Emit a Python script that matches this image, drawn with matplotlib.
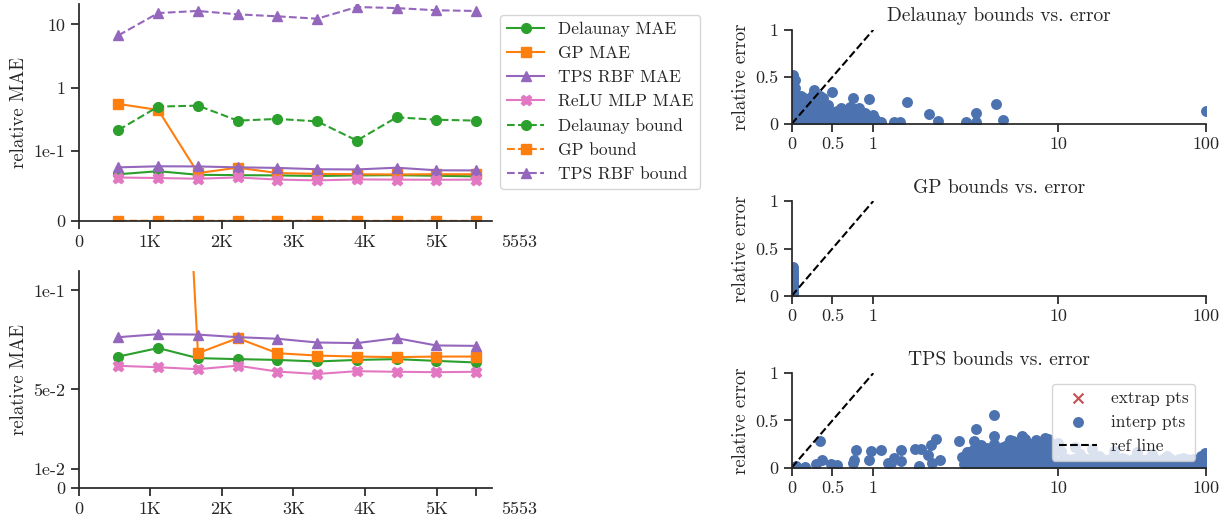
import numpy as np
import matplotlib
matplotlib.use('Agg')
import matplotlib.pyplot as plt
from matplotlib import transforms

# sample counts on the x axis of the left panels
n_points = [555, 1111, 1666, 2221, 2776, 3332, 3887, 4442, 4998, 5553]
x_ticks = [0, 1000, 2000, 3000, 4000, 5000, 5553]
x_tick_labels = ['0', '1K', '2K', '3K', '4K', '5K', '5553']

delaunay_mae = [0.0666, 0.0709, 0.0658, 0.0653, 0.0649, 0.0641, 0.0649, 0.0653, 0.0644, 0.0636]
gp_mae = [0.551, 0.442, 0.0683, 0.0759, 0.0683, 0.0671, 0.0666, 0.0663, 0.0666, 0.0666]
tps_mae = [0.0764, 0.0779, 0.0777, 0.0764, 0.0756, 0.0737, 0.0734, 0.0759, 0.0722, 0.0720]
mlp_mae = [0.0619, 0.0612, 0.0602, 0.0620, 0.0590, 0.0578, 0.0592, 0.0589, 0.0587, 0.0589]
delaunay_bound = [0.213, 0.50, 0.518, 0.30, 0.319, 0.292, 0.145, 0.338, 0.31, 0.30]
gp_bound = [0.0004, 0.0003, 0.0003, 0.0003, 0.0003, 0.0002, 0.0002, 0.0002, 0.0002, 0.0002]
tps_bound = [6.7, 15.1, 16.3, 14.4, 13.4, 12.3, 18.8, 18.1, 16.7, 16.3]

# scatter: bound (x) vs relative error (y)
del_bound = [0.01, 0.01, 0.02, 0.03, 0.02, 0.02, 0.03, 0.08, 0.1, 0.1, 0.1, 0.15, 0.18, 0.2,
             0.22, 0.27, 0.3, 0.3, 0.33, 0.38, 0.4, 0.42, 0.45, 0.49, 0.5, 0.55, 0.6, 0.62,
             0.66, 0.7, 0.75, 0.76, 0.8, 0.85, 0.9, 0.95, 0.98, 1.0, 1.1, 1.29, 1.4, 1.52,
             2.0, 2.24, 3.16, 3.58, 3.6, 4.6, 5.0, 100, 0.05, 0.4, 0.7,
             0.04, 0.04, 0.04, 0.04, 0.04, 0.04, 0.04, 0.12, 0.12, 0.12, 0.12, 0.12,
             0.2, 0.2, 0.2, 0.2, 0.25, 0.25, 0.25, 0.25, 0.35, 0.35, 0.35, 0.35, 0.35,
             0.45, 0.45, 0.45, 0.45, 0.55, 0.55, 0.55, 0.65, 0.65, 0.72, 0.72, 0.72,
             0.82, 0.82, 0.82, 0.9, 0.9, 1.02]
del_err = [0.52, 0.44, 0.36, 0.28, 0.20, 0.12, 0.05, 0.30, 0.22, 0.14, 0.06, 0.27, 0.18, 0.10,
           0.03, 0.36, 0.26, 0.16, 0.08, 0.27, 0.18, 0.11, 0.04, 0.34, 0.13, 0.07, 0.17, 0.10,
           0.03, 0.13, 0.27, 0.16, 0.10, 0.05, 0.08, 0.26, 0.03, 0.09, 0.02, 0.02, 0.02, 0.23,
           0.10, 0.03, 0.02, 0.02, 0.12, 0.21, 0.04, 0.14, 0.0, 0.0, 0.0,
           0.47, 0.38, 0.30, 0.24, 0.16, 0.08, 0.01, 0.30, 0.25, 0.18, 0.10, 0.02,
           0.26, 0.21, 0.14, 0.06, 0.30, 0.22, 0.12, 0.01, 0.30, 0.22, 0.13, 0.05, 0.01,
           0.20, 0.12, 0.07, 0.01, 0.14, 0.10, 0.02, 0.15, 0.06, 0.18, 0.08, 0.01,
           0.17, 0.06, 0.01, 0.12, 0.03, 0.05]

gp_bnd = [0.02, 0.02, 0.02, 0.02, 0.02, 0.02, 0.02, 0.02, 0.02, 0.02, 0.02, 0.01, 0.01]
gp_err = [0.0, 0.03, 0.06, 0.09, 0.12, 0.15, 0.18, 0.21, 0.24, 0.27, 0.30, 0.10, 0.20]

tps_bnd = [0.05, 0.16, 0.35, 0.37, 0.3, 0.48, 0.55, 0.75, 0.76, 0.79, 0.95, 0.97, 1.1, 1.2,
           1.25, 1.29, 1.41, 1.41, 1.69, 1.82, 1.77, 1.98, 2.06, 2.17, 2.08, 2.3, 2.91, 3.51,
           3.57, 4.47, 4.47, 5.45, 6.4, 8.5,
           3.0, 3.1, 3.3, 3.4, 3.6, 3.7, 3.9, 4.0, 4.2, 4.4, 4.6, 4.8, 5.0, 5.2, 5.4, 5.6,
           5.8, 6.0, 6.2, 6.5, 6.7, 7.0, 7.2, 7.5, 7.8, 8.1, 8.5, 8.8, 9.2, 9.6, 10, 10.5,
           11, 12, 13, 14, 15, 17, 19, 21, 24, 27, 30, 34, 38, 43, 48, 55, 62, 70, 78, 86,
           93, 99, 97,
           3.2, 3.2, 3.2, 3.5, 3.5, 3.5, 3.8, 3.8, 3.8, 3.8, 4.1, 4.1, 4.1,
           4.5, 4.5, 4.5, 4.5, 4.9, 4.9, 4.9, 5.3, 5.3, 5.3, 5.3, 5.7, 5.7, 5.7, 5.7,
           6.1, 6.1, 6.1, 6.1, 6.6, 6.6, 6.6, 6.6, 7.1, 7.1, 7.1, 7.1, 7.6, 7.6, 7.6, 7.6,
           8.2, 8.2, 8.2, 8.2, 8.8, 8.8, 8.8, 8.8, 9.4, 9.4, 9.4, 9.4,
           10.7, 10.7, 11.5, 11.5, 12.5, 12.5, 13.5, 13.5, 15.5, 15.5, 16.5, 16.5, 18, 18,
           20, 20, 22.5, 22.5, 25.5, 25.5, 28.5, 28.5, 32, 32, 36, 36, 40.5, 40.5, 45.5, 45.5,
           51, 51, 58, 58, 66, 66, 74, 74, 82, 82, 90, 90, 98, 99.5]
tps_err = [0.02, 0.01, 0.28, 0.08, 0.04, 0.04, 0.03, 0.05, 0.08, 0.19, 0.08, 0.18, 0.19, 0.05,
           0.05, 0.10, 0.19, 0.07, 0.20, 0.20, 0.02, 0.13, 0.24, 0.30, 0.05, 0.08, 0.28, 0.28,
           0.41, 0.556, 0.33, 0.29, 0.34, 0.31,
           0.11, 0.04, 0.16, 0.07, 0.22, 0.12, 0.03, 0.17, 0.08, 0.20, 0.13, 0.04, 0.22, 0.15,
           0.07, 0.25, 0.18, 0.10, 0.03, 0.27, 0.20, 0.12, 0.05, 0.25, 0.17, 0.09, 0.28, 0.20,
           0.13, 0.05, 0.26, 0.18, 0.10, 0.03, 0.22, 0.14, 0.06, 0.20, 0.12, 0.04, 0.18, 0.10,
           0.03, 0.16, 0.08, 0.14, 0.05, 0.12, 0.06, 0.10, 0.03, 0.08, 0.12, 0.15, 0.04,
           0.02, 0.09, 0.17, 0.05, 0.13, 0.20, 0.02, 0.09, 0.17, 0.24, 0.05, 0.13, 0.21,
           0.02, 0.09, 0.17, 0.25, 0.05, 0.13, 0.20, 0.02, 0.09, 0.17, 0.24, 0.05, 0.13, 0.21, 0.28,
           0.02, 0.09, 0.17, 0.24, 0.05, 0.13, 0.21, 0.30, 0.02, 0.09, 0.17, 0.25, 0.05, 0.13, 0.21, 0.29,
           0.02, 0.09, 0.17, 0.24, 0.05, 0.13, 0.21, 0.30, 0.02, 0.09, 0.17, 0.25,
           0.02, 0.09, 0.02, 0.09, 0.02, 0.09, 0.02, 0.09, 0.02, 0.09, 0.02, 0.09, 0.02, 0.09,
           0.02, 0.09, 0.02, 0.09, 0.02, 0.09, 0.02, 0.09, 0.02, 0.09, 0.02, 0.09, 0.02, 0.09, 0.02, 0.09,
           0.02, 0.09, 0.02, 0.09, 0.02, 0.09, 0.02, 0.09, 0.02, 0.09, 0.02, 0.09, 0.10, 0.06]

scatter_ticks = [0, 0.5, 1, 10, 100]
scatter_tick_labels = ['0', '0.5', '1', '10', '100']

GREEN, ORANGE, PURPLE, PINK = '#2ca02c', '#ff7f0e', '#9467bd', '#e377c2'
BLUE, RED = '#4c72b0', '#c44e52'
DARK = '#262626'

plt.rcParams.update({
    'font.family': ['cmr10', 'DejaVu Serif'],
    'font.size': 13,
    'axes.labelsize': 13.5,
    'xtick.labelsize': 13,
    'ytick.labelsize': 13,
    'legend.fontsize': 12.5,
    'axes.unicode_minus': False,
    'axes.formatter.use_mathtext': True,
    'text.color': DARK,
    'axes.labelcolor': DARK,
    'axes.edgecolor': DARK,
    'xtick.color': DARK,
    'ytick.color': DARK,
    'axes.linewidth': 1.25,
    'xtick.major.width': 1.25,
    'ytick.major.width': 1.25,
    'xtick.major.size': 6,
    'ytick.major.size': 6,
    'lines.linewidth': 1.5,
    'legend.edgecolor': '0.8',
})

W, H = 1228, 525
fig = plt.figure(figsize=(W / 100, H / 100), dpi=100)


def px_axes(left, top, right, bottom):
    return fig.add_axes([left / W, 1 - bottom / H, (right - left) / W, (bottom - top) / H])


def style(ax):
    ax.spines['top'].set_visible(False)
    ax.spines['right'].set_visible(False)


def left_xaxis(ax):
    ax.set_xlim(0, 5770)
    ax.set_xticks(x_ticks)
    ax.set_xticklabels(x_tick_labels)
    lab = ax.get_xticklabels()[-1]
    lab.set_transform(lab.get_transform() + transforms.ScaledTranslation(0.43, 0, fig.dpi_scale_trans))


# ---- top left: all curves on symlog scale
ax1 = px_axes(78.7, 4, 491.7, 221)
style(ax1)
ax1.set_yscale('symlog', linthresh=0.1, linscale=1)
ax1.plot(n_points, delaunay_mae, '-o', color=GREEN, ms=7, label='Delaunay MAE')
ax1.plot(n_points, gp_mae, '-s', color=ORANGE, ms=7, label='GP MAE')
ax1.plot(n_points, tps_mae, '-^', color=PURPLE, ms=7.5, label='TPS RBF MAE')
ax1.plot(n_points, mlp_mae, '-X', color=PINK, ms=7.5, label='ReLU MLP MAE')
ax1.plot(n_points, delaunay_bound, '--o', color=GREEN, ms=7, label='Delaunay bound')
ax1.plot(n_points, gp_bound, '--s', color=ORANGE, ms=7, label='GP bound')
ax1.plot(n_points, tps_bound, '--^', color=PURPLE, ms=7.5, label='TPS RBF bound')
ax1.set_ylim(0, 21)
ax1.set_yticks([0, 0.1, 1, 10])
ax1.set_yticklabels(['0', '1e-1', '1', '10'])
ax1.yaxis.set_minor_locator(plt.NullLocator())
ax1.set_ylabel('relative MAE')
left_xaxis(ax1)
ax1.legend(loc='upper left', bbox_to_anchor=(1.0, 0.99), handlelength=2.1,
           borderaxespad=0.5, labelspacing=0.5)

# ---- bottom left: zoom on the MAE curves
ax2 = px_axes(78.7, 270.7, 491.7, 488.3)
style(ax2)
ax2.plot(n_points, delaunay_mae, '-o', color=GREEN, ms=7)
ax2.plot(n_points, gp_mae, '-s', color=ORANGE, ms=7)
ax2.plot(n_points, tps_mae, '-^', color=PURPLE, ms=7.5)
ax2.plot(n_points, mlp_mae, '-X', color=PINK, ms=7.5)
ax2.set_ylim(0, 0.11)
ax2.set_yticks([0, 0.01, 0.05, 0.1])
ax2.set_yticklabels(['0', '1e-2', '5e-2', '1e-1'])
ax2.set_ylabel('relative MAE')
left_xaxis(ax2)

# ---- right: bounds vs error scatter
LIN = 0.441    # width of the linear part [0, 1] in decades
UPPER = 0.797  # relative width of the decade [10, 100]


def fwd(x):
    x = np.asarray(x, dtype=float)
    lx = np.log10(np.maximum(x, 1e-12))
    return np.where(x <= 1, x * LIN, np.where(x <= 10, LIN + lx, LIN + 1 + (lx - 1) * UPPER))


def inv(y):
    y = np.asarray(y, dtype=float)
    return np.where(y <= LIN, y / LIN,
                    np.where(y <= LIN + 1, 10 ** (y - LIN), 10 ** (1 + (y - LIN - 1) / UPPER)))


panels = [
    ('Delaunay bounds vs. error', del_bound, del_err, 29.8, 123.9),
    ('GP bounds vs. error', gp_bnd, gp_err, 201.1, 295.9),
    ('TPS bounds vs. error', tps_bnd, tps_err, 373.2, 467.6),
]
for title, bx, ey, top, bottom in panels:
    ax = px_axes(791.7, top, 1205.7, bottom)
    style(ax)
    ax.set_xscale('function', functions=(fwd, inv))
    ax.scatter([], [], marker='x', color=RED, s=50, label='extrap pts')
    ax.scatter(bx, ey, s=62, color=BLUE, linewidths=0, label='interp pts')
    ax.plot([0, 1], [0, 1], '--', color='k', lw=1.5, label='ref line')
    ax.set_xlim(0, 100)
    ax.set_ylim(0, 1)
    ax.set_xticks(scatter_ticks)
    ax.set_xticklabels(scatter_tick_labels)
    ax.xaxis.set_minor_locator(plt.NullLocator())
    ax.set_yticks([0, 0.5, 1])
    ax.set_yticklabels(['0', '0.5', '1'])
    ax.set_ylabel('relative error')
    ax.set_title(title, fontsize=14)
    if title.startswith('TPS'):
        ax.legend(loc='upper right', handlelength=2.2, borderaxespad=0.6)

fig.savefig('out.png', dpi=100)
